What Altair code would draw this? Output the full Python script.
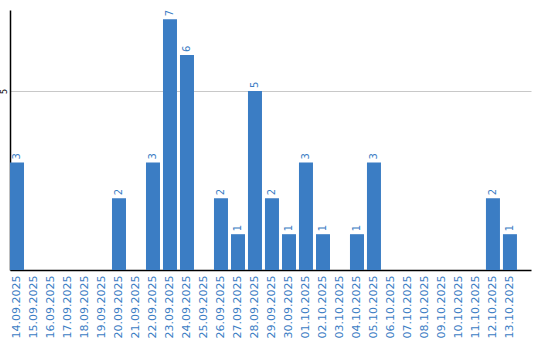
import altair as alt
import pandas as pd

dates = ["14.09.2025","15.09.2025","16.09.2025","17.09.2025","18.09.2025","19.09.2025",
         "20.09.2025","21.09.2025","22.09.2025","23.09.2025","24.09.2025","25.09.2025",
         "26.09.2025","27.09.2025","28.09.2025","29.09.2025","30.09.2025","01.10.2025",
         "02.10.2025","03.10.2025","04.10.2025","05.10.2025","06.10.2025","07.10.2025",
         "08.10.2025","09.10.2025","10.10.2025","11.10.2025","12.10.2025","13.10.2025"]
values = [3,0,0,0,0,0,2,0,3,7,6,0,2,1,5,2,1,3,1,0,1,3,0,0,0,0,0,0,2,1]

df = pd.DataFrame({"date": dates, "value": values})

BLUE = "#3b7dc4"

x = alt.X("date:N", sort=dates, title=None,
          scale=alt.Scale(paddingInner=0.176, paddingOuter=0.413, align=0),
          axis=alt.Axis(labelAngle=-90, labelColor=BLUE, labelFont="DejaVu Sans",
                        labelFontSize=11, labelPadding=5, ticks=False,
                        domainColor="black", domainWidth=1.5, grid=False))
y = alt.Y("value:Q", title=None,
          scale=alt.Scale(domain=[0, 7.26], nice=False, zero=True),
          axis=alt.Axis(values=[5], labelAngle=-90, labelFontSize=8, labelColor="black",
                        labelFont="DejaVu Sans", labelPadding=2, labelAlign="center",
                        labelBaseline="bottom",
                        ticks=False, domainColor="black", domainWidth=1.5,
                        grid=True, gridColor="#c8c8c8", gridWidth=1))

bars = alt.Chart(df).mark_bar(color=BLUE).encode(x=x, y=y)

labels = alt.Chart(df).transform_filter(alt.datum.value > 0).mark_text(
    angle=270, align="left", baseline="middle", dx=3, fontSize=10,
    font="DejaVu Sans", color=BLUE
).encode(x=alt.X("date:N", sort=dates), y="value:Q", text="value:Q")

chart = alt.layer(bars, labels).properties(
    width=521, height=260,
    background="white",
    autosize=alt.AutoSizeParams(type="none"),
    padding={"left": 10, "top": 10, "right": 9, "bottom": 70},
).configure_view(stroke="transparent", strokeWidth=0)

chart.save("out.html", embed_options={"renderer": "svg", "actions": False})
